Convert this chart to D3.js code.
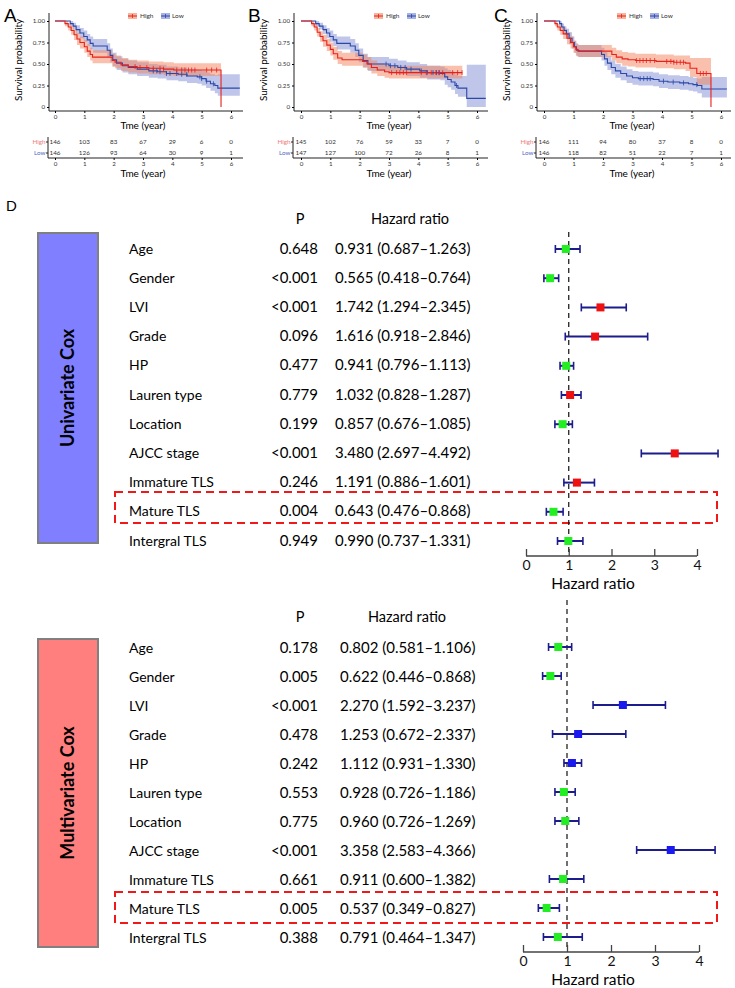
<!DOCTYPE html>
<html><head><meta charset="utf-8">
<script src="https://cdn.jsdelivr.net/npm/d3@7"></script>
<style>body{margin:0;background:#fff}svg{display:block}text{font-family:Lato,"Open Sans",sans-serif}</style>
</head><body>
<svg id="c" width="735" height="988"></svg>
<script>
// ---------------- KM data: [time, survival, lower CI, upper CI] ----------------
const kmA_high = [[0,1,1,1],[0.34,0.97,0.94,1],[0.45,0.93,0.89,0.97],[0.55,0.89,0.84,0.94],[0.65,0.84,0.78,0.90],[0.75,0.79,0.72,0.86],[0.85,0.75,0.68,0.82],[1.0,0.70,0.63,0.78],[1.1,0.65,0.58,0.73],[1.2,0.61,0.54,0.69],[1.28,0.58,0.51,0.66],[1.95,0.54,0.47,0.62],[2.05,0.52,0.45,0.60],[2.25,0.49,0.42,0.57],[2.5,0.47,0.40,0.55],[2.8,0.46,0.39,0.54],[3.2,0.45,0.38,0.53],[3.7,0.44,0.37,0.52],[4.05,0.43,0.36,0.51]];
const kmA_low = [[0,1,1,1],[0.52,0.97,0.94,1],[0.62,0.94,0.90,0.98],[0.72,0.90,0.85,0.95],[0.85,0.86,0.80,0.92],[0.98,0.82,0.76,0.89],[1.1,0.78,0.71,0.85],[1.2,0.74,0.67,0.82],[1.3,0.71,0.63,0.79],[1.78,0.66,0.58,0.74],[1.88,0.60,0.52,0.68],[1.97,0.55,0.47,0.63],[2.1,0.51,0.43,0.59],[2.3,0.48,0.40,0.56],[2.5,0.46,0.38,0.54],[2.8,0.44,0.36,0.52],[3.2,0.42,0.34,0.50],[3.5,0.41,0.33,0.49],[3.8,0.39,0.31,0.47],[4.2,0.38,0.30,0.46],[4.5,0.36,0.28,0.44],[4.85,0.35,0.27,0.43],[5.0,0.33,0.25,0.42],[5.15,0.30,0.22,0.40],[5.3,0.27,0.19,0.38],[5.45,0.25,0.16,0.37],[5.55,0.22,0.13,0.38]];
const kmB_high = [[0,1,1,1],[0.36,0.97,0.94,1],[0.45,0.93,0.89,0.97],[0.55,0.87,0.82,0.92],[0.65,0.82,0.76,0.88],[0.75,0.77,0.70,0.84],[0.88,0.72,0.65,0.79],[1.0,0.67,0.60,0.75],[1.1,0.62,0.55,0.70],[1.25,0.57,0.50,0.65],[1.4,0.55,0.48,0.63],[2.1,0.53,0.46,0.61],[2.25,0.50,0.43,0.58],[2.4,0.46,0.39,0.54],[2.6,0.43,0.36,0.51],[2.85,0.41,0.34,0.49],[3.0,0.40,0.33,0.48]];
const kmB_low = [[0,1,1,1],[0.5,0.97,0.94,1],[0.62,0.94,0.90,0.98],[0.75,0.90,0.85,0.95],[0.87,0.86,0.80,0.92],[0.98,0.82,0.76,0.89],[1.1,0.78,0.71,0.85],[1.22,0.74,0.67,0.82],[1.68,0.71,0.63,0.79],[1.85,0.66,0.58,0.74],[1.97,0.60,0.52,0.68],[2.12,0.54,0.46,0.62],[2.28,0.50,0.42,0.58],[3.0,0.48,0.40,0.56],[3.3,0.46,0.38,0.54],[3.6,0.44,0.36,0.52],[4.05,0.42,0.34,0.50],[4.3,0.40,0.32,0.48],[4.75,0.39,0.31,0.47],[4.9,0.35,0.26,0.45],[5.0,0.32,0.23,0.43],[5.12,0.29,0.20,0.41],[5.25,0.25,0.15,0.38],[5.35,0.22,0.12,0.36],[5.65,0.10,0.0,0.49]];
const kmC_high = [[0,1,1,1],[0.37,0.97,0.94,1],[0.45,0.93,0.89,0.97],[0.55,0.89,0.84,0.94],[0.65,0.85,0.79,0.91],[0.78,0.80,0.73,0.87],[0.9,0.75,0.68,0.82],[1.0,0.70,0.63,0.77],[1.08,0.67,0.60,0.74],[1.15,0.65,0.58,0.72],[2.3,0.61,0.54,0.69],[2.45,0.58,0.51,0.66],[2.65,0.56,0.48,0.64],[2.85,0.55,0.47,0.63],[3.1,0.54,0.46,0.62],[3.8,0.53,0.45,0.61],[4.4,0.52,0.44,0.60],[4.8,0.51,0.42,0.60],[4.95,0.45,0.35,0.57],[5.18,0.39,0.26,0.57]];
const kmC_low = [[0,1,1,1],[0.53,0.97,0.94,1],[0.6,0.93,0.89,0.97],[0.68,0.89,0.84,0.94],[0.76,0.85,0.79,0.91],[0.85,0.80,0.73,0.87],[0.95,0.75,0.68,0.82],[1.03,0.70,0.63,0.77],[1.1,0.66,0.59,0.73],[1.18,0.65,0.58,0.72],[1.95,0.61,0.54,0.69],[2.05,0.56,0.48,0.64],[2.15,0.51,0.43,0.59],[2.28,0.46,0.38,0.54],[2.42,0.42,0.34,0.50],[2.6,0.39,0.31,0.47],[2.8,0.36,0.28,0.44],[3.0,0.34,0.26,0.42],[3.2,0.33,0.25,0.41],[3.7,0.32,0.24,0.40],[3.9,0.30,0.22,0.38],[4.2,0.29,0.21,0.37],[4.6,0.28,0.20,0.36],[4.9,0.27,0.19,0.35],[5.05,0.26,0.18,0.34],[5.2,0.25,0.16,0.33],[5.35,0.21,0.11,0.35]];
// end times and whether curve drops to 0 at end
const kmEnds = {A:{high:[5.66,true],low:[6.3,false]},B:{high:[5.5,false],low:[6.3,false]},C:{high:[5.66,true],low:[6.2,false]}};
// censor times
const censA_high = [2.73,2.9,3.13,3.35,3.58,3.7,4.15,4.32,4.43,4.55,4.66,4.77,5.17,5.34,5.51];
const censA_low = [3.35,3.47,3.58,3.8,3.92,4.15,4.32,4.49,4.94,5.0,5.17,5.4];
const censB_high = [3.09,3.26,3.37,3.49,3.6,4.1,4.27,4.44,4.6,4.72,4.83,5.17,5.34,5.49];
const censB_low = [2.9,3.05,3.2,3.4,3.55,3.75,4.1,4.3,4.5,4.62,4.7,5.3];
const censC_high = [3.14,3.25,3.36,3.47,3.6,3.75,4.16,4.3,4.4,4.5,4.62,4.73,5.3,5.4,5.5];
const censC_low = [3.26,3.38,3.5,3.6,4.05,4.38,4.73,5.18];
// number at risk
const riskTimes = [0,1,2,3,4,5,6];
const riskA_high = [146,103,83,67,29,6,0], riskA_low = [146,126,93,64,30,9,1];
const riskB_high = [145,102,76,59,33,7,0], riskB_low = [147,127,100,72,26,8,1];
const riskC_high = [146,111,94,80,37,8,0], riskC_low = [146,118,82,51,22,7,1];
const survTicks = [0,0.25,0.5,0.75,1];

// ---------------- Forest data ----------------
const variables = ["Age","Gender","LVI","Grade","HP","Lauren type","Location","AJCC stage","Immature TLS","Mature TLS","Intergral TLS"];
const uniP = ["0.648","<0.001","<0.001","0.096","0.477","0.779","0.199","<0.001","0.246","0.004","0.949"];
const uniHR = [0.931,0.565,1.742,1.616,0.941,1.032,0.857,3.480,1.191,0.643,0.990];
const uniLo = [0.687,0.418,1.294,0.918,0.796,0.828,0.676,2.697,0.886,0.476,0.737];
const uniHi = [1.263,0.764,2.345,2.846,1.113,1.287,1.085,4.492,1.601,0.868,1.331];
const mulP = ["0.178","0.005","<0.001","0.478","0.242","0.553","0.775","<0.001","0.661","0.005","0.388"];
const mulHR = [0.802,0.622,2.270,1.253,1.112,0.928,0.960,3.358,0.911,0.537,0.791];
const mulLo = [0.581,0.446,1.592,0.672,0.931,0.726,0.726,2.583,0.600,0.349,0.464];
const mulHi = [1.106,0.868,3.237,2.337,1.330,1.186,1.269,4.366,1.382,0.827,1.347];
const hrTicks = [0,1,2,3,4];

const svg = d3.select("#c");
const RED="#e8201c", BLUE="#2a48a8", REDF="#f4845c", BLUEF="#7080d0";

function stepData(pts, end){
  const last = pts[pts.length-1];
  return {area: pts.concat([[end[0], last[1], last[2], last[3]]]),
          line: pts.concat([[end[0], end[1] ? 0 : last[1]]])};
}
function survAt(pts,t){ let s=1; for(const p of pts){ if(p[0]<=t) s=p[1]; } return s; }

function drawKM(cfg){
  const g = svg.append("g");
  const x = d3.scaleLinear().domain([0,6]).range([cfg.ox, cfg.ox+cfg.w]);
  const y = d3.scaleLinear().domain([0,1]).range([107,21]);
  const ax = cfg.axisX;
  g.append("text").attr("x",cfg.letterX).attr("y",22).attr("font-size",19).style("font-family","Liberation Sans, Arial").text(cfg.letter);
  const area = d3.area().x(d=>x(d[0])).y0(d=>y(d[2])).y1(d=>y(d[3])).curve(d3.curveStepAfter);
  const line = d3.line().x(d=>x(d[0])).y(d=>y(d[1])).curve(d3.curveStepAfter);
  const H = stepData(cfg.high, cfg.ends.high), L = stepData(cfg.low, cfg.ends.low);
  g.append("path").attr("d",area(L.area)).attr("fill",BLUEF).attr("opacity",0.45);
  g.append("path").attr("d",area(H.area)).attr("fill",REDF).attr("opacity",0.5);
  g.append("path").attr("d",line(L.line)).attr("fill","none").attr("stroke",BLUE).attr("stroke-width",1.1);
  g.append("path").attr("d",line(H.line)).attr("fill","none").attr("stroke",RED).attr("stroke-width",1.1);
  [[cfg.censLow,cfg.low,BLUE],[cfg.censHigh,cfg.high,RED]].forEach(([cs,pts,col])=>{
    g.selectAll(null).data(cs).enter().append("line")
      .attr("x1",d=>x(d)).attr("x2",d=>x(d))
      .attr("y1",d=>y(survAt(pts,d))-2.5).attr("y2",d=>y(survAt(pts,d))+2.5)
      .attr("stroke",col).attr("stroke-width",0.8);
  });
  // axes
  g.append("line").attr("x1",ax).attr("x2",ax).attr("y1",13).attr("y2",111).attr("stroke","#222").attr("stroke-width",1);
  g.append("line").attr("x1",ax).attr("x2",ax+194).attr("y1",111).attr("y2",111).attr("stroke","#222").attr("stroke-width",1);
  const ya = g.append("g").attr("transform",`translate(${ax},0)`)
    .call(d3.axisLeft(y).tickValues(survTicks).tickSize(2).tickPadding(2).tickFormat(d=>d===0?"0":d3.format(".2f")(d)));
  ya.select(".domain").remove();
  ya.selectAll("text").attr("font-size",6.2).attr("fill","#333").style("font-family","Lato");
  const xa = g.append("g").attr("transform","translate(0,111)")
    .call(d3.axisBottom(x).tickValues(riskTimes).tickSize(2).tickPadding(2).tickFormat(d3.format("d")));
  xa.select(".domain").remove();
  xa.selectAll("text").attr("font-size",6.2).attr("fill","#333").style("font-family","Lato");
  g.append("text").attr("x",cfg.ox+88).attr("y",129).attr("text-anchor","middle").attr("font-size",10).text("Tme (year)");
  g.append("text").attr("transform",`translate(${ax-27},60) rotate(-90)`).attr("text-anchor","middle").attr("font-size",9.8).text("Survival probability");
  // legend
  [[REDF,RED,"High",73,85],[BLUEF,BLUE,"Low",106,117]].forEach(([f,c,t,sx,tx])=>{
    g.append("rect").attr("x",cfg.ox+sx).attr("y",13).attr("width",9).attr("height",6).attr("fill",f).attr("opacity",0.6);
    g.append("line").attr("x1",cfg.ox+sx).attr("x2",cfg.ox+sx+9).attr("y1",16).attr("y2",16).attr("stroke",c).attr("stroke-width",1);
    g.append("line").attr("x1",cfg.ox+sx+4.5).attr("x2",cfg.ox+sx+4.5).attr("y1",14).attr("y2",18).attr("stroke",c).attr("stroke-width",0.8);
    g.append("text").attr("x",cfg.ox+tx).attr("y",18.3).attr("font-size",6.5).attr("fill","#333").text(t);
  });
  // risk table
  const rows = [[cfg.riskHigh,142,"High","#f07a7a"],[cfg.riskLow,153,"Low","#5566c8"]];
  g.append("line").attr("x1",ax-1).attr("x2",ax-1).attr("y1",137).attr("y2",158).attr("stroke","#222");
  rows.forEach(([vals,yy,lab,col])=>{
    g.append("line").attr("x1",ax-3).attr("x2",ax-1).attr("y1",yy).attr("y2",yy).attr("stroke","#222");
    g.append("text").attr("x",ax-3.5).attr("y",yy+2.2).attr("text-anchor","end").attr("font-size",6.3).attr("fill",col).text(lab);
    g.selectAll(null).data(vals).enter().append("text")
      .attr("x",(d,i)=>x(riskTimes[i])).attr("y",yy+2.2).attr("text-anchor","middle").attr("font-size",6.3).attr("fill","#333").text(d=>d);
  });
  g.append("line").attr("x1",ax-1).attr("x2",ax+194).attr("y1",158).attr("y2",158).attr("stroke","#222");
  const xb = g.append("g").attr("transform","translate(0,158)")
    .call(d3.axisBottom(x).tickValues(riskTimes).tickSize(2).tickPadding(2).tickFormat(d3.format("d")));
  xb.select(".domain").remove();
  xb.selectAll("text").attr("font-size",6.2).attr("fill","#333").style("font-family","Lato");
  g.append("text").attr("x",cfg.ox+88).attr("y",177).attr("text-anchor","middle").attr("font-size",10).text("Tme (year)");
}

drawKM({letter:"A",letterX:4,ox:55,w:176,axisX:49,high:kmA_high,low:kmA_low,ends:kmEnds.A,censHigh:censA_high,censLow:censA_low,riskHigh:riskA_high,riskLow:riskA_low});
drawKM({letter:"B",letterX:248,ox:301,w:176,axisX:294,high:kmB_high,low:kmB_low,ends:kmEnds.B,censHigh:censB_high,censLow:censB_low,riskHigh:riskB_high,riskLow:riskB_low});
drawKM({letter:"C",letterX:494,ox:544,w:177,axisX:537,high:kmC_high,low:kmC_low,ends:kmEnds.C,censHigh:censC_high,censLow:censC_low,riskHigh:riskC_high,riskLow:riskC_low});

svg.append("text").attr("x",6).attr("y",211).attr("font-size",15).style("font-family","Liberation Sans, Arial").text("D");

function drawForest(cfg){
  const g = svg.append("g");
  const x = d3.scaleLinear().domain([0,4]).range([cfg.x0, cfg.x1]);
  const ry = i => cfg.row0 + i*cfg.step;
  // side box
  g.append("rect").attr("x",38).attr("y",cfg.boxY0).attr("width",60).attr("height",cfg.boxY1-cfg.boxY0)
    .attr("fill",cfg.boxFill).attr("stroke","#808080").attr("stroke-width",2);
  g.append("text").attr("transform",`translate(74,${(cfg.boxY0+cfg.boxY1)/2}) rotate(-90)`).attr("text-anchor","middle")
    .attr("font-size",18).attr("font-weight","bold").text(cfg.title);
  // headers
  g.append("text").attr("x",300).attr("y",cfg.headY).attr("text-anchor","middle").attr("font-size",14.5).text("P");
  g.append("text").attr("x",cfg.hrHeadX).attr("y",cfg.headY).attr("text-anchor","middle").attr("font-size",14.5).text("Hazard ratio");
  // highlight box
  g.append("rect").attr("x",115).attr("y",cfg.hlY0).attr("width",602).attr("height",cfg.hlY1-cfg.hlY0)
    .attr("fill","none").attr("stroke","#f01818").attr("stroke-width",2).attr("stroke-dasharray","8,5");
  // reference line
  g.append("line").attr("x1",x(1)).attr("x2",x(1)).attr("y1",cfg.refY0).attr("y2",cfg.refY1)
    .attr("stroke","#111").attr("stroke-width",1.2).attr("stroke-dasharray","5,4");
  variables.forEach((v,i)=>{
    const yy = ry(i);
    g.append("text").attr("x",129).attr("y",yy+cfg.txtOff).attr("font-size",14).text(v);
    g.append("text").attr("x",318).attr("y",yy+cfg.txtOff).attr("text-anchor","end").attr("font-size",15).text(cfg.p[i]);
    g.append("text").attr("x",cfg.hrX).attr("y",yy+cfg.txtOff).attr("font-size",15)
      .text(`${cfg.hr[i].toFixed(3)} (${cfg.lo[i].toFixed(3)}\u2013${cfg.hi[i].toFixed(3)})`);
    const c = "#1c1c8c";
    g.append("line").attr("x1",x(cfg.lo[i])).attr("x2",x(cfg.hi[i])).attr("y1",yy).attr("y2",yy).attr("stroke",c).attr("stroke-width",2);
    [cfg.lo[i],cfg.hi[i]].forEach(e=>g.append("line").attr("x1",x(e)).attr("x2",x(e)).attr("y1",yy-4).attr("y2",yy+4).attr("stroke",c).attr("stroke-width",1.6));
    g.append("rect").attr("x",x(cfg.hr[i])-4).attr("y",yy-4).attr("width",8).attr("height",8)
      .attr("fill",cfg.hr[i]<1?"#22ee22":cfg.upColor);
  });
  // axis
  const ag = g.append("g").attr("transform",`translate(0,${cfg.axisY})`)
    .call(d3.axisTop(x).tickValues(hrTicks).tickSize(7).tickFormat(d3.format("d")));
  ag.select(".domain").attr("d",`M${x(0)},0H${x(4)}`).attr("stroke","#444").attr("stroke-width",1.3);
  ag.selectAll(".tick line").attr("stroke","#444").attr("stroke-width",1.3);
  ag.selectAll("text").attr("y",14).attr("dy",0).attr("font-size",14).attr("fill","#111");
  g.append("text").attr("x",593).attr("y",cfg.axisY+33).attr("text-anchor","middle").attr("font-size",15.5).text("Hazard ratio");
}

drawForest({title:"Univariate Cox",boxFill:"#7f7fff",boxY0:233,boxY1:543,headY:224,hrHeadX:410,row0:249,step:29.2,txtOff:4.5,
  x0:526,x1:697,refY0:232,refY1:552,hlY0:492,hlY1:523,axisY:556,hrX:335,p:uniP,hr:uniHR,lo:uniLo,hi:uniHi,upColor:"#f01010"});
drawForest({title:"Multivariate Cox",boxFill:"#ff7f7f",boxY0:639,boxY1:947,headY:622,hrHeadX:407,row0:647,step:29,txtOff:6,
  x0:523,x1:699,refY0:600,refY1:950,hlY0:892,hlY1:923,axisY:952,hrX:340,p:mulP,hr:mulHR,lo:mulLo,hi:mulHi,upColor:"#1a1aee"});
</script>
</body></html>
